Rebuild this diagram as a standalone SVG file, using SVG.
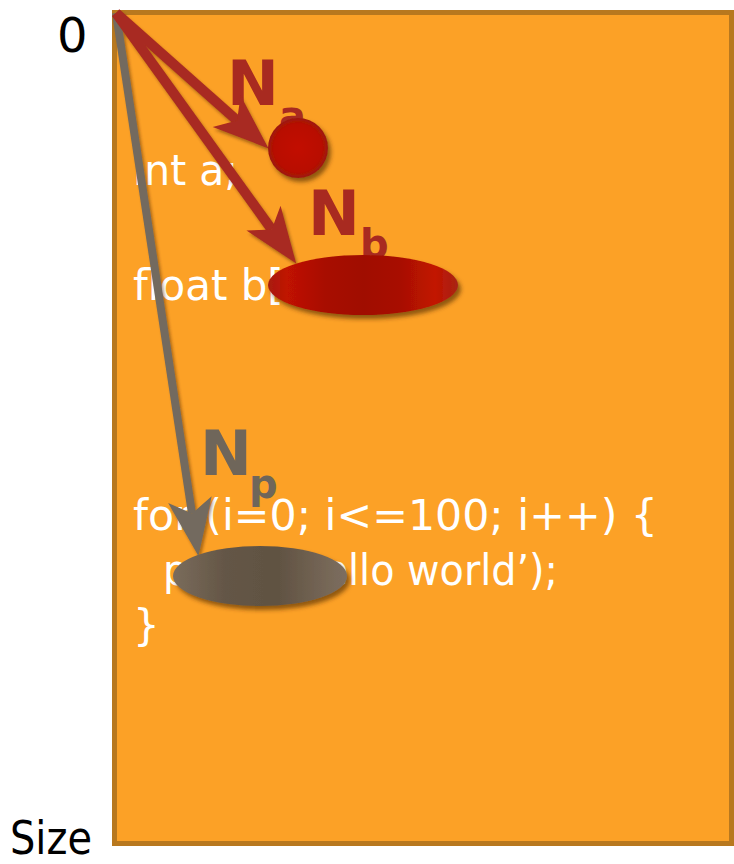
<svg xmlns="http://www.w3.org/2000/svg" width="734" height="864" viewBox="0 0 734 864">
<style>
.code{font-family:"DejaVu Sans","Liberation Sans",sans-serif;font-size:42px;fill:#ffffff}
.axis{font-family:"DejaVu Sans","Liberation Sans",sans-serif;fill:#000000}
.lbl{font-family:"DejaVu Sans","Liberation Sans",sans-serif;font-weight:bold}
.red{fill:#a82a20}
.gray{fill:#6f665a}
.ln-red{stroke:#a82a20;stroke-width:10;fill:none}
.ln-gray{stroke:#736a5e;stroke-width:8;fill:none}
</style>
<defs>
<filter id="sh" x="-20%" y="-20%" width="150%" height="150%">
<feDropShadow dx="3" dy="4" stdDeviation="2" flood-color="#4a2800" flood-opacity="0.6"/>
</filter>
<filter id="shl" x="-20%" y="-20%" width="150%" height="150%">
<feDropShadow dx="2" dy="3" stdDeviation="1.5" flood-color="#4a2800" flood-opacity="0.45"/>
</filter>
<radialGradient id="gA" cx="50%" cy="50%" r="50%">
<stop offset="0" stop-color="#c21000"/>
<stop offset="0.8" stop-color="#b80e00"/>
<stop offset="1" stop-color="#9c1a0c"/>
</radialGradient>
<linearGradient id="gB" x1="0" y1="0" x2="1" y2="0">
<stop offset="0" stop-color="#a81c12"/>
<stop offset="0.1" stop-color="#c01200"/>
<stop offset="0.3" stop-color="#a80e00"/>
<stop offset="0.5" stop-color="#a00c00"/>
<stop offset="0.7" stop-color="#a81000"/>
<stop offset="0.88" stop-color="#c21400"/>
<stop offset="1" stop-color="#a82414"/>
</linearGradient>
<linearGradient id="gP" x1="0" y1="0" x2="1" y2="0">
<stop offset="0" stop-color="#7a6c5c"/>
<stop offset="0.3" stop-color="#645646"/>
<stop offset="0.6" stop-color="#605242"/>
<stop offset="0.9" stop-color="#776858"/>
<stop offset="1" stop-color="#7c6e60"/>
</linearGradient>
<marker id="hR" markerUnits="userSpaceOnUse" markerWidth="60" markerHeight="50" refX="14" refY="25" orient="auto" overflow="visible">
<path d="M0,4 L56,25 L0,46 L14,25 Z" fill="#a82a20"/>
</marker>
<marker id="hG" markerUnits="userSpaceOnUse" markerWidth="60" markerHeight="50" refX="14" refY="25" orient="auto" overflow="visible">
<path d="M0,3 L57,25 L0,47 L14,25 Z" fill="#736a5e"/>
</marker>
</defs>

<g id="memory">
<rect x="114.5" y="12.5" width="617" height="831" fill="#fca126" stroke="#b8781e" stroke-width="5"/>
</g>

<g id="axis-labels">
<text class="axis" x="57" y="52" font-size="48">0</text>
<text class="axis" x="10" y="854" font-size="46" textLength="82" lengthAdjust="spacingAndGlyphs">Size</text>
</g>

<g id="code">
<text class="code" x="133" y="185" textLength="105" lengthAdjust="spacingAndGlyphs">int a;</text>
<text class="code" x="133" y="300">float b[</text>
<text class="code" x="133" y="530" textLength="525" lengthAdjust="spacingAndGlyphs">for (i=0; i&lt;=100; i++) {</text>
<text class="code" x="163" y="585" textLength="395" lengthAdjust="spacingAndGlyphs">printf(‘hello world’);</text>
<text class="code" x="133" y="640">}</text>
</g>

<g id="labels">
<g id="label-a" class="lbl red"><text x="227" y="105" font-size="62">N</text><text x="279" y="130" font-size="40">a</text></g>
<g id="label-b" class="lbl red"><text x="308" y="235" font-size="62">N</text><text x="360" y="258" font-size="40">b</text></g>
<g id="label-p" class="lbl gray"><text x="200" y="475" font-size="62">N</text><text x="249" y="498" font-size="40">p</text></g>
</g>

<g id="connectors" filter="url(#shl)">
<line class="ln-gray" x1="116" y1="13" x2="192" y2="513.5" marker-end="url(#hG)"/>
<line class="ln-red" x1="116" y1="13" x2="271.7" y2="229.5" marker-end="url(#hR)"/>
<line class="ln-red" x1="116" y1="13" x2="237.1" y2="120.5" marker-end="url(#hR)"/>
</g>

<g id="var-a" filter="url(#sh)">
<circle cx="298" cy="148" r="30" fill="url(#gA)"/>
</g>
<g id="var-b" filter="url(#sh)">
<ellipse cx="363" cy="285" rx="95" ry="30" fill="url(#gB)"/>
</g>
<g id="loop-p" filter="url(#sh)">
<ellipse cx="260" cy="576" rx="87" ry="30" fill="url(#gP)"/>
</g>
</svg>
